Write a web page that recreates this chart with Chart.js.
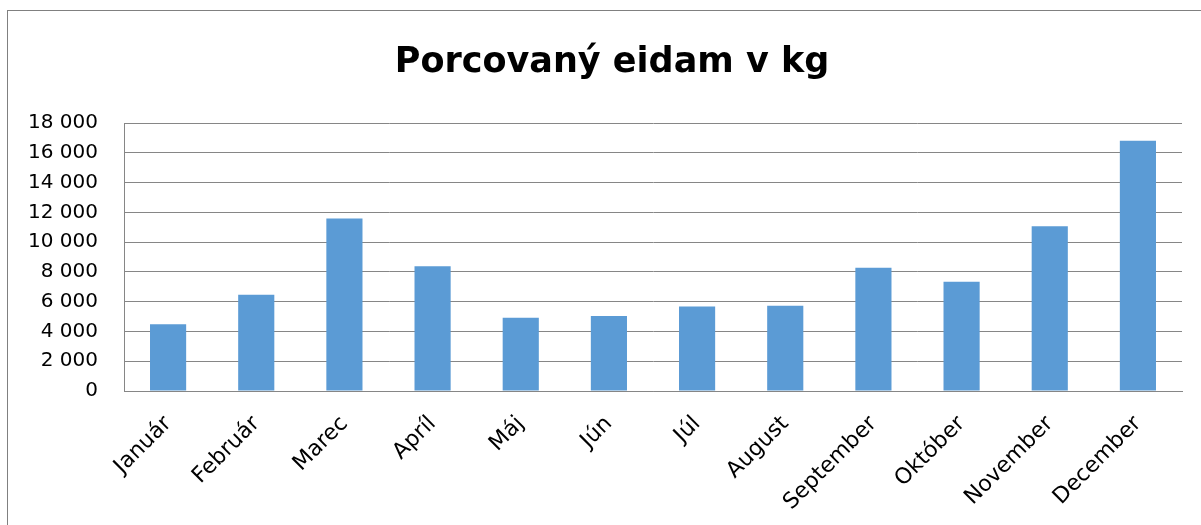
<!DOCTYPE html>
<html>
<head>
<meta charset="utf-8">
<script src="https://cdn.jsdelivr.net/npm/chart.js@4/dist/chart.umd.min.js"></script>
<style>
  html, body { margin: 0; padding: 0; background: #ffffff; }
  #wrap { position: relative; width: 1201px; height: 525px; overflow: hidden; }
  #frame { position: absolute; left: 7px; top: 10px; width: 1300px; height: 600px;
           border-left: 1px solid #808080; border-top: 1px solid #808080; box-sizing: border-box; }
  canvas { position: absolute; left: 0; top: 0; }
</style>
</head>
<body>
<div id="wrap">
  <div id="frame"></div>
  <canvas id="c" width="1201" height="525"></canvas>
</div>
<script>
const chartTitle = 'Porcovaný eidam v kg';
const months = ['Január', 'Február', 'Marec', 'Apríl', 'Máj', 'Jún', 'Júl', 'August', 'September', 'Október', 'November', 'December'];
const values = [4490, 6470, 11590, 8380, 4920, 5030, 5680, 5720, 8270, 7340, 11070, 16800];
const yMin = 0;
const yMax = 18000;
const yStep = 2000;

const PAD_LEFT = 10, PAD_RIGHT = 19;
const TITLE_SHIFT = 16;
const gridColor = '#868686';
const font = 'DejaVu Sans';

function fmt(v) {
  return String(v).replace(/\B(?=(\d{3})+(?!\d))/g, ' ');
}

const titleShift = {
  id: 'titleShift',
  afterLayout(chart) {
    const t = chart.titleBlock;
    if (t) { t.left += TITLE_SHIFT; t.right += TITLE_SHIFT; }
  }
};

new Chart(document.getElementById('c'), {
  type: 'bar',
  data: {
    labels: months,
    datasets: [{
      data: values,
      backgroundColor: '#5B9BD5',
      borderWidth: 0,
      barPercentage: 0.41,
      categoryPercentage: 1.0
    }]
  },
  plugins: [titleShift],
  options: {
    responsive: false,
    animation: false,
    layout: { padding: { left: PAD_LEFT, right: PAD_RIGHT, top: 0, bottom: 0 } },
    plugins: {
      legend: { display: false },
      tooltip: { enabled: false },
      title: {
        display: true,
        text: chartTitle,
        color: '#000000',
        font: { family: font, size: 35, weight: 'bold', lineHeight: 1.2 },
        padding: { top: 42, bottom: 39 }
      }
    },
    scales: {
      x: {
        grid: { display: false, drawTicks: false },
        border: { display: true, color: gridColor, width: 1 },
        ticks: {
          color: '#000000',
          font: { family: font, size: 22 },
          minRotation: 45,
          maxRotation: 45,
          autoSkip: false,
          padding: 20
        },
        afterFit: function (scale) { scale.height = 134; }
      },
      y: {
        min: yMin,
        max: yMax,
        grid: { color: gridColor, lineWidth: 1, drawTicks: false },
        border: { display: true, color: gridColor, width: 1 },
        ticks: {
          stepSize: yStep,
          color: '#000000',
          font: { family: font, size: 20 },
          padding: 26,
          callback: function (v) { return fmt(v); }
        },
        afterFit: function (scale) { scale.width = 124 - PAD_LEFT; }
      }
    }
  }
});
</script>
</body>
</html>
